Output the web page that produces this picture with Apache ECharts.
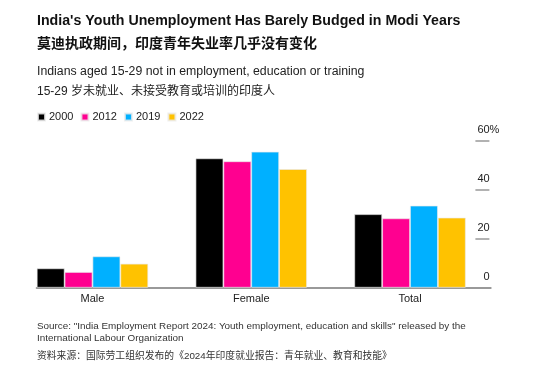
<!DOCTYPE html>
<html><head><meta charset="utf-8">
<script src="https://cdn.jsdelivr.net/npm/echarts@6/dist/echarts.min.js"></script>
<style>html,body{margin:0;padding:0;background:#fff}#c{width:548px;height:379px}</style>
</head><body><div id="c"></div>
<script>
const categories = ['Male', 'Female', 'Total'];
const years = ['2000', '2012', '2019', '2022'];
const v2000 = [7.9, 52.8, 30.0];
const v2012 = [6.4, 51.6, 28.3];
const v2019 = [12.8, 55.5, 33.5];
const v2022 = [9.8, 48.4, 28.6];
const colors = ['#000000', '#ff0090', '#00b0ff', '#ffc200'];
const yTicks = [0, 20, 40, 60];

const FF = '"Liberation Sans", Arial, "Noto Sans CJK SC", sans-serif';
const values = [v2000, v2012, v2019, v2022];
const chart = echarts.init(document.getElementById('c'), null, {renderer: 'canvas'});
chart.setOption({
  animation: false,
  backgroundColor: '#fff',
  textStyle: {fontFamily: FF},
  title: [
    {text: "India's Youth Unemployment Has Barely Budged in Modi Years", left: 37, top: 14, padding: 0,
     textStyle: {fontFamily: FF, fontSize: 14.2, fontWeight: 'bold', color: '#111'}},
    {text: '莫迪执政期间，印度青年失业率几乎没有变化', left: 37, top: 37, padding: 0,
     textStyle: {fontFamily: FF, fontSize: 14, fontWeight: 'bold', color: '#111'}},
    {text: 'Indians aged 15-29 not in employment, education or training', left: 37, top: 65, padding: 0,
     textStyle: {fontFamily: FF, fontSize: 12.3, fontWeight: 'normal', color: '#222'}},
    {text: '15-29 岁未就业、未接受教育或培训的印度人', left: 37, top: 86, padding: 0,
     textStyle: {fontFamily: FF, fontSize: 12, fontWeight: 'normal', color: '#222'}},
    {text: 'Source: "India Employment Report 2024: Youth employment, education and skills" released by the\nInternational Labour Organization', left: 37, top: 320.5, padding: 0,
     textStyle: {fontFamily: FF, fontSize: 9.9, fontWeight: 'normal', color: '#333', lineHeight: 12}},
    {text: '资料来源：国际劳工组织发布的《2024年印度就业报告：青年就业、教育和技能》', left: 37, top: 351.5, padding: 0,
     textStyle: {fontFamily: FF, fontSize: 9.8, fontWeight: 'normal', color: '#333'}}
  ],
  legend: {
    left: 37, top: 111.5, padding: 0, itemWidth: 7, itemHeight: 7, itemGap: 7, icon: 'rect',
    data: years,
    textStyle: {fontFamily: FF, fontSize: 11, color: '#222', padding: [0, 0, 0, -1]}
  },
  grid: [
    {left: 13.1, right: 58.6, top: 140.7, bottom: 91.3, containLabel: false},
    {left: 36.7, right: 57.3, top: 140.7, bottom: 91.3, containLabel: false}
  ],
  xAxis: [
    {
      type: 'category', data: categories, gridIndex: 0,
      axisLine: {show: false},
      axisTick: {show: false},
      axisLabel: {fontFamily: FF, fontSize: 11, color: '#222', margin: 6}
    },
    {
      type: 'value', gridIndex: 1, min: 0, max: 1,
      axisLine: {show: true, onZero: false, lineStyle: {color: '#999', width: 2}},
      axisTick: {show: false}, axisLabel: {show: false}, splitLine: {show: false}
    }
  ],
  yAxis: [
    {
      type: 'value', gridIndex: 0, position: 'right', min: 0, max: 60, interval: 20,
      axisLine: {show: false},
      axisTick: {show: true, inside: true, length: 14, lineStyle: {color: '#999', width: 1.5}},
      splitLine: {show: false},
      axisLabel: {
        inside: true, align: 'right', verticalAlign: 'bottom', margin: -10,
        fontFamily: FF, fontSize: 11, color: '#222', padding: [0, 0, 5, 0],
        formatter: function (v) { return v + (v === yTicks[yTicks.length - 1] ? '{p|%}' : '{h|%}'); },
        rich: {p: {fontFamily: FF, fontSize: 11, color: '#222'},
               h: {fontFamily: FF, fontSize: 11, color: 'rgba(0,0,0,0)'}}
      }
    },
    {
      type: 'value', gridIndex: 1, min: 0, max: 1, show: false
    }
  ],
  series: years.map((y, i) => ({
    name: y, type: 'bar', data: values[i], barGap: '0%', barCategoryGap: '29.8%',
    xAxisIndex: 0, yAxisIndex: 0, z: 1,
    itemStyle: {color: colors[i], borderColor: 'rgba(235,235,235,0.8)', borderWidth: 0.8}
  }))
});
</script></body></html>
